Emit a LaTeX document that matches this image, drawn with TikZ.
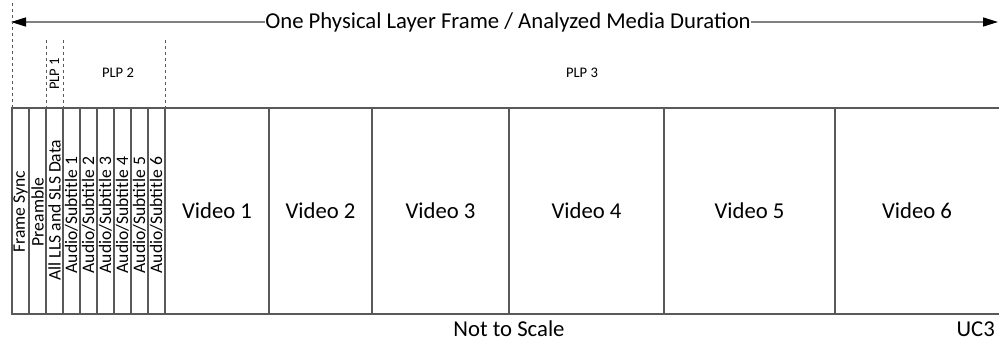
\documentclass[tikz,border=0pt]{standalone}
\usepackage{fontspec}
\setmainfont{Carlito}
\usetikzlibrary{arrows.meta}
\begin{document}
\begin{tikzpicture}[x=1pt,y=-1pt,
  frameline/.style={draw=black!65, line width=1.3pt},
  guide/.style={draw=black!65, line width=1pt, dash pattern=on 3pt off 3pt},
  spanline/.style={draw=black!50, line width=1.5pt},
  tip/.style={-{Triangle[length=15pt,width=9pt,color=black]}},
  biglabel/.style={font=\fontsize{22.7}{27}\selectfont, inner sep=0pt},
  vlabel/.style={font=\fontsize{17.6}{21}\selectfont, rotate=90, inner sep=0pt},
  plplabel/.style={font=\fontsize{14.6}{17}\selectfont, inner sep=0pt}]
\useasboundingbox (0,0) rectangle (999,345);
% coordinates
\coordinate (arrL) at (11,22);
\coordinate (arrR) at (998,22);
\coordinate (boxTL) at (12,108);
\coordinate (boxTR) at (999,108);
\coordinate (boxBL) at (12,314);
\coordinate (boxBR) at (999,314);
% title and span arrow
\node[biglabel] (title) at (508,22) {One Physical Layer Frame / Analyzed Media Duration};
\draw[spanline,tip] (title.west |- arrL) -- (arrL);
\draw[spanline,tip] (title.east |- arrR) -- (arrR);
% dashed guides
\coordinate (g0a) at (12,3);   \coordinate (g0b) at (12,108);
\coordinate (g1a) at (46,40);  \coordinate (g1b) at (46,108);
\coordinate (g2a) at (63,40);  \coordinate (g2b) at (63,108);
\coordinate (g3a) at (165,40); \coordinate (g3b) at (165,108);
\draw[guide] (g0a) -- (g0b);
\draw[guide] (g1a) -- (g1b);
\draw[guide] (g2a) -- (g2b);
\draw[guide] (g3a) -- (g3b);
% PLP labels
\node[plplabel,rotate=90] (plp1) at (54.5,74) {PLP 1};
\node[plplabel] (plp2) at (118,73) {PLP 2};
\node[plplabel] (plp3) at (582,73) {PLP 3};
% frame box (open on the right)
\draw[frameline] (boxTR) -- (boxTL) -- (boxBL) -- (boxBR);
\foreach \x in {29,46,63,80,97,114,131,148,165,269,372,509,664,835}
  \draw[frameline] (\x,108) -- (\x,314);
% rotated labels
\node[vlabel] (fs) at (20.5,212) {Frame Sync};
\node[vlabel] (pre) at (37.5,212) {Preamble};
\node[vlabel] (lls) at (54.5,210) {All LLS and SLS Data};
\node[vlabel] (as1) at (71.5,215) {Audio/Subtitle 1};
\node[vlabel] (as2) at (88.5,215) {Audio/Subtitle 2};
\node[vlabel] (as3) at (105.5,215) {Audio/Subtitle 3};
\node[vlabel] (as4) at (122.5,215) {Audio/Subtitle 4};
\node[vlabel] (as5) at (139.5,215) {Audio/Subtitle 5};
\node[vlabel] (as6) at (156.5,215) {Audio/Subtitle 6};
% video labels
\node[biglabel] (v1) at (217,211) {Video 1};
\node[biglabel] (v2) at (320.5,211) {Video 2};
\node[biglabel] (v3) at (440.5,211) {Video 3};
\node[biglabel] (v4) at (586.5,211) {Video 4};
\node[biglabel] (v5) at (749.5,211) {Video 5};
\node[biglabel] (v6) at (917,211) {Video 6};
% footer
\node[biglabel,anchor=base] (nts) at (509,336) {Not to Scale};
\node[biglabel,anchor=base east] (uc) at (995,336) {UC3};
\end{tikzpicture}
\end{document}
